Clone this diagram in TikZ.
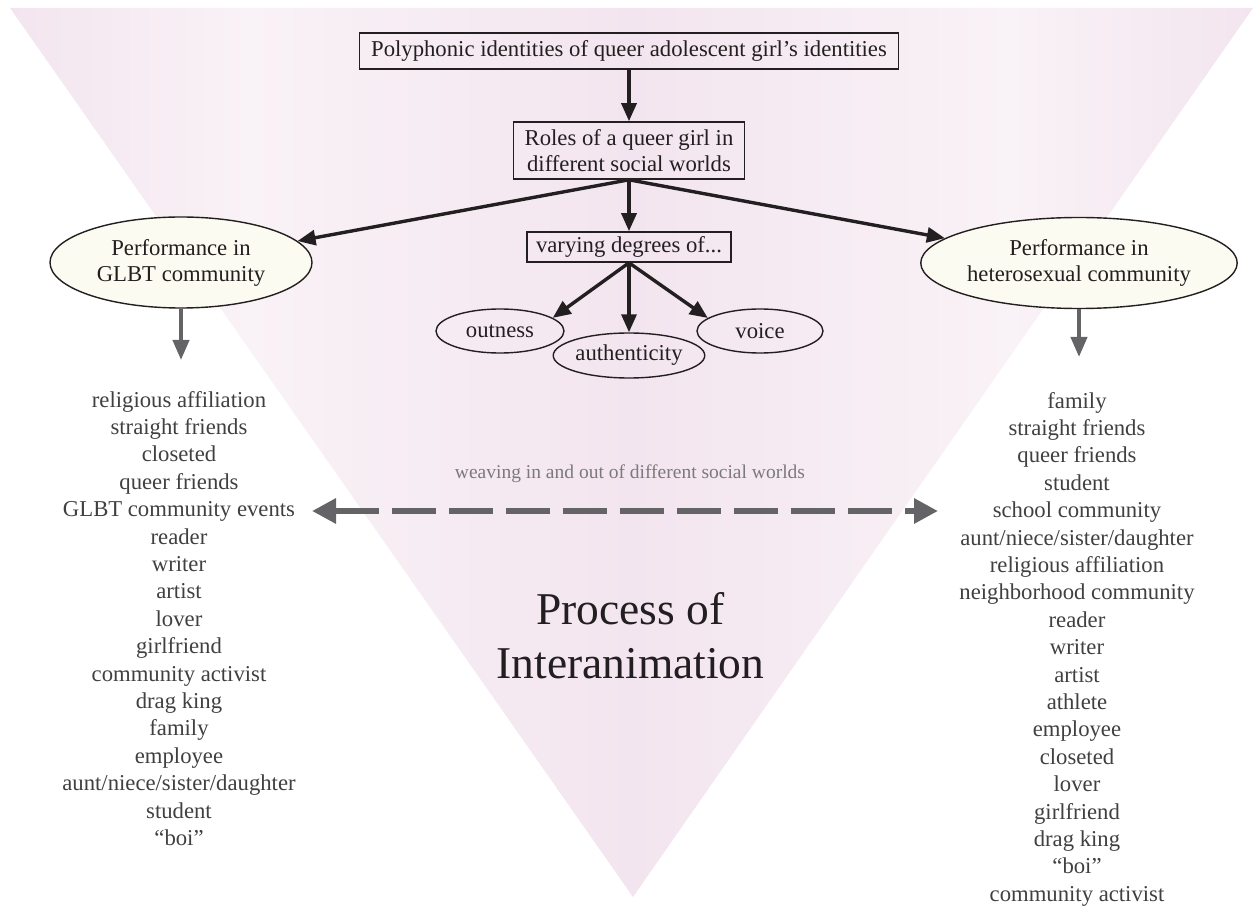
\documentclass[tikz,border=0pt]{standalone}
\usepackage{fontspec}
\setmainfont{Liberation Serif}
\usetikzlibrary{arrows.meta,shapes.geometric}
\definecolor{ink}{HTML}{231F20}
\definecolor{listgrey}{HTML}{404041}
\definecolor{pinkA}{HTML}{F3E5EF}
\definecolor{pinkB}{HTML}{F9F2F6}
\definecolor{cream}{HTML}{FCFBF1}
\definecolor{arrgrey}{HTML}{646466}
\definecolor{weavegrey}{HTML}{7A7A7D}
\begin{document}
\begin{tikzpicture}[x=1pt,y=-1pt,
  txt/.style={font=\fontsize{22.7}{26}\selectfont, text=ink},
  rbox/.style={txt, draw=ink, line width=1.6pt, inner sep=0pt, align=center},
  ell/.style={txt, ellipse, draw=ink, line width=1.4pt, inner sep=0pt, align=center},
  perf/.style={ell, fill=cream, minimum width=262pt, minimum height=91pt},
  small/.style={ell, minimum width=128pt, minimum height=44pt},
  darrow/.style={draw=ink, line width=3.4pt, -{Triangle[length=18pt,width=15pt]}},
  garrow/.style={draw=arrgrey, line width=4pt, -{Triangle[length=20pt,width=16pt]}},
  rolelist/.style={font=\fontsize{22.7}{27.4}\selectfont, text=listgrey, align=center, inner sep=0pt, anchor=north},
]
\useasboundingbox (0,0) rectangle (1254,909);
% background triangle
\begin{scope}
  \clip (10,8) -- (1253,8) -- (633,897) -- cycle;
  \shade[left color=pinkA, right color=pinkB] (9,7) rectangle (250,898);
  \shade[left color=pinkB, right color=pinkA] (249,7) rectangle (632,898);
  \shade[left color=pinkA, right color=pinkB] (631,7) rectangle (1010,898);
  \shade[left color=pinkB, right color=pinkA] (1009,7) rectangle (1254,898);
\end{scope}

% nodes
\node[rbox, minimum width=539pt, minimum height=36pt] (top) at (629,51)
  {Polyphonic identities of queer adolescent girl’s identities};
\node[rbox, minimum width=231pt, minimum height=57pt] (roles) at (629,150.5)
  {Roles of a queer girl in\\different social worlds};
\node[rbox, minimum width=204pt, minimum height=30pt] (vary) at (629,247)
  {varying degrees of...};
\node[small] (outness) at (500,331) {outness};
\node[small, minimum height=45pt] (auth) at (629,355.5) {authenticity};
\node[small, minimum width=126pt] (voice) at (760,331) {voice};
\node[perf] (glbt) at (181,262.5) {Performance in\\GLBT community};
\node[perf] (hetero) at (1079,263) {Performance in\\heterosexual community};

\node[rolelist] (glbtlist) at (179,391) {religious affiliation\\straight friends\\closeted\\queer friends\\GLBT community events\\reader\\writer\\artist\\lover\\girlfriend\\community activist\\drag king\\family\\employee\\aunt/niece/sister/daughter\\student\\“boi”};
\node[rolelist] (heterolist) at (1077,392) {family\\straight friends\\queer friends\\student\\school community\\aunt/niece/sister/daughter\\religious affiliation\\neighborhood community\\reader\\writer\\artist\\athlete\\employee\\closeted\\lover\\girlfriend\\drag king\\“boi”\\community activist};

\node[font=\fontsize{19.5}{22}\selectfont, text=weavegrey] (weave) at (630,474)
  {weaving in and out of different social worlds};
\node[font=\fontsize{45.5}{54}\selectfont, text=ink, align=center] (process) at (630.5,636)
  {Process of\\Interanimation};

% connectors
\draw[darrow] (top.south) -- (roles.north);
\draw[darrow] (roles.south) -- (glbt);
\draw[darrow] (roles.south) -- (hetero);
\draw[darrow] (roles.south) -- (vary.north);
\draw[darrow] (vary.south) -- (outness.14);
\draw[darrow] (vary.south) -- (auth.north);
\draw[darrow] (vary.south) -- (voice.166);

\draw[garrow, shorten >=31pt] (glbt.south) -- (glbt.south |- glbtlist.north);
\draw[garrow, shorten >=35pt] (hetero.south) -- (hetero.south |- heterolist.north);

\coordinate (wl) at (312,511);
\coordinate (wr) at (938,511);
\draw[draw=arrgrey, line width=6pt, dash pattern=on 44pt off 13pt,
  {Triangle[length=24pt,width=24pt]}-{Triangle[length=24pt,width=24pt]}] (wl) -- (wr);
\end{tikzpicture}
\end{document}
